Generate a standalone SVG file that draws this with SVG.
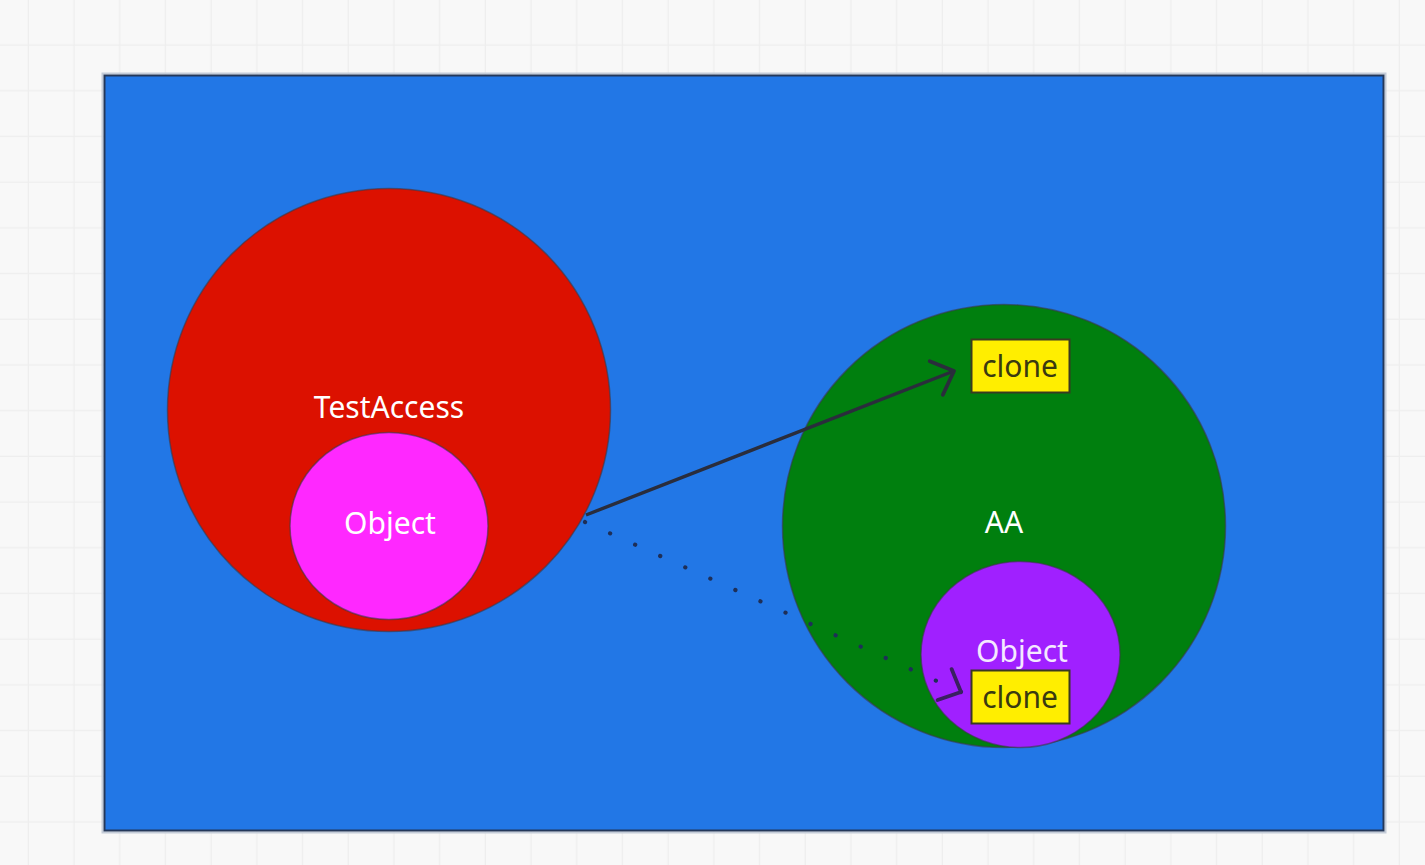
<svg xmlns="http://www.w3.org/2000/svg" width="1425" height="865" viewBox="0 0 1425 865">
  <defs>
    <pattern id="grid" x="-16.7" y="0" width="45.7" height="45.7" patternUnits="userSpaceOnUse">
      <rect width="45.7" height="45.7" fill="#f8f8f8"/>
      <path d="M45.7 0V45.7M0 45.7H45.7" stroke="#eeeeee" stroke-width="2.4" fill="none"/>
    </pattern>
    <marker id="chev" viewBox="-24 -22 27 44" markerWidth="27" markerHeight="44" refX="0" refY="0" orient="auto" markerUnits="userSpaceOnUse">
      <path d="M-19 -18L0 0L-19 18" fill="none" stroke="#2a2d3c" stroke-width="3.8" stroke-linecap="round" stroke-linejoin="round"/>
    </marker>
    <marker id="chevDot" viewBox="-24 -22 27 44" markerWidth="27" markerHeight="44" refX="0" refY="0" orient="auto" markerUnits="userSpaceOnUse">
      <path d="M-18 -17L0 0L-18 17" fill="none" stroke="#3a2060" stroke-width="3.8" stroke-linecap="round" stroke-linejoin="round"/>
    </marker>
  </defs>
  <style>
    .lbl { font-family: "Noto Sans", "Open Sans", "Liberation Sans", sans-serif; font-size: 30px; text-anchor: middle; dominant-baseline: central; }
    .white { fill: #ffffff; }
    .pale { fill: #f4e8ff; }
    .dark { fill: #3a3a10; }
    .ring { stroke: #3a3a48; stroke-opacity: 0.6; stroke-width: 1.5; }
    .tag { fill: #ffee00; stroke: #3a3a20; stroke-width: 2; }
  </style>

  <!-- canvas -->
  <rect width="1425" height="865" fill="url(#grid)"/>

  <!-- container panel -->
  <g id="panel">
    <rect x="102.5" y="73.5" width="1283" height="759" fill="none" stroke="#c4ccd8" stroke-width="2"/>
    <rect x="104.5" y="75.5" width="1279" height="755" fill="#2277e6" stroke="#24385a" stroke-width="2"/>
  </g>

  <!-- TestAccess -->
  <g id="testaccess">
    <circle cx="389" cy="410" r="221.5" fill="#dc1100" class="ring"/>
    <text class="lbl white" x="389" y="406">TestAccess</text>
  </g>
  <g id="object-left">
    <ellipse cx="389" cy="526" rx="99" ry="93.5" fill="#ff28ff" class="ring"/>
    <text class="lbl white" x="390" y="522">Object</text>
  </g>

  <!-- AA -->
  <g id="aa">
    <circle cx="1004" cy="526" r="221.5" fill="#007f0e" class="ring"/>
    <text class="lbl white" x="1004" y="521">AA</text>
  </g>
  <g id="object-right">
    <ellipse cx="1020.5" cy="654.5" rx="99.5" ry="93" fill="#a020ff" class="ring"/>
    <text class="lbl pale" x="1022" y="650">Object</text>
  </g>

  <g id="clone-top">
    <rect class="tag" x="971.5" y="339.5" width="98" height="53"/>
    <text class="lbl dark" x="1020" y="365">clone</text>
  </g>
  <g id="clone-bottom">
    <rect class="tag" x="971.5" y="670.5" width="98" height="53"/>
    <text class="lbl dark" x="1020" y="696">clone</text>
  </g>

  <!-- connectors -->
  <g id="connectors" fill="none">
    <path d="M586 515L954 371" stroke="#2a2d3c" stroke-width="3.4" marker-end="url(#chev)"/>
    <path d="M585 522L961 692" stroke="#1e2f58" stroke-width="4.2" stroke-linecap="round" stroke-dasharray="0.1 27.4" marker-end="url(#chevDot)"/>
  </g>
</svg>
